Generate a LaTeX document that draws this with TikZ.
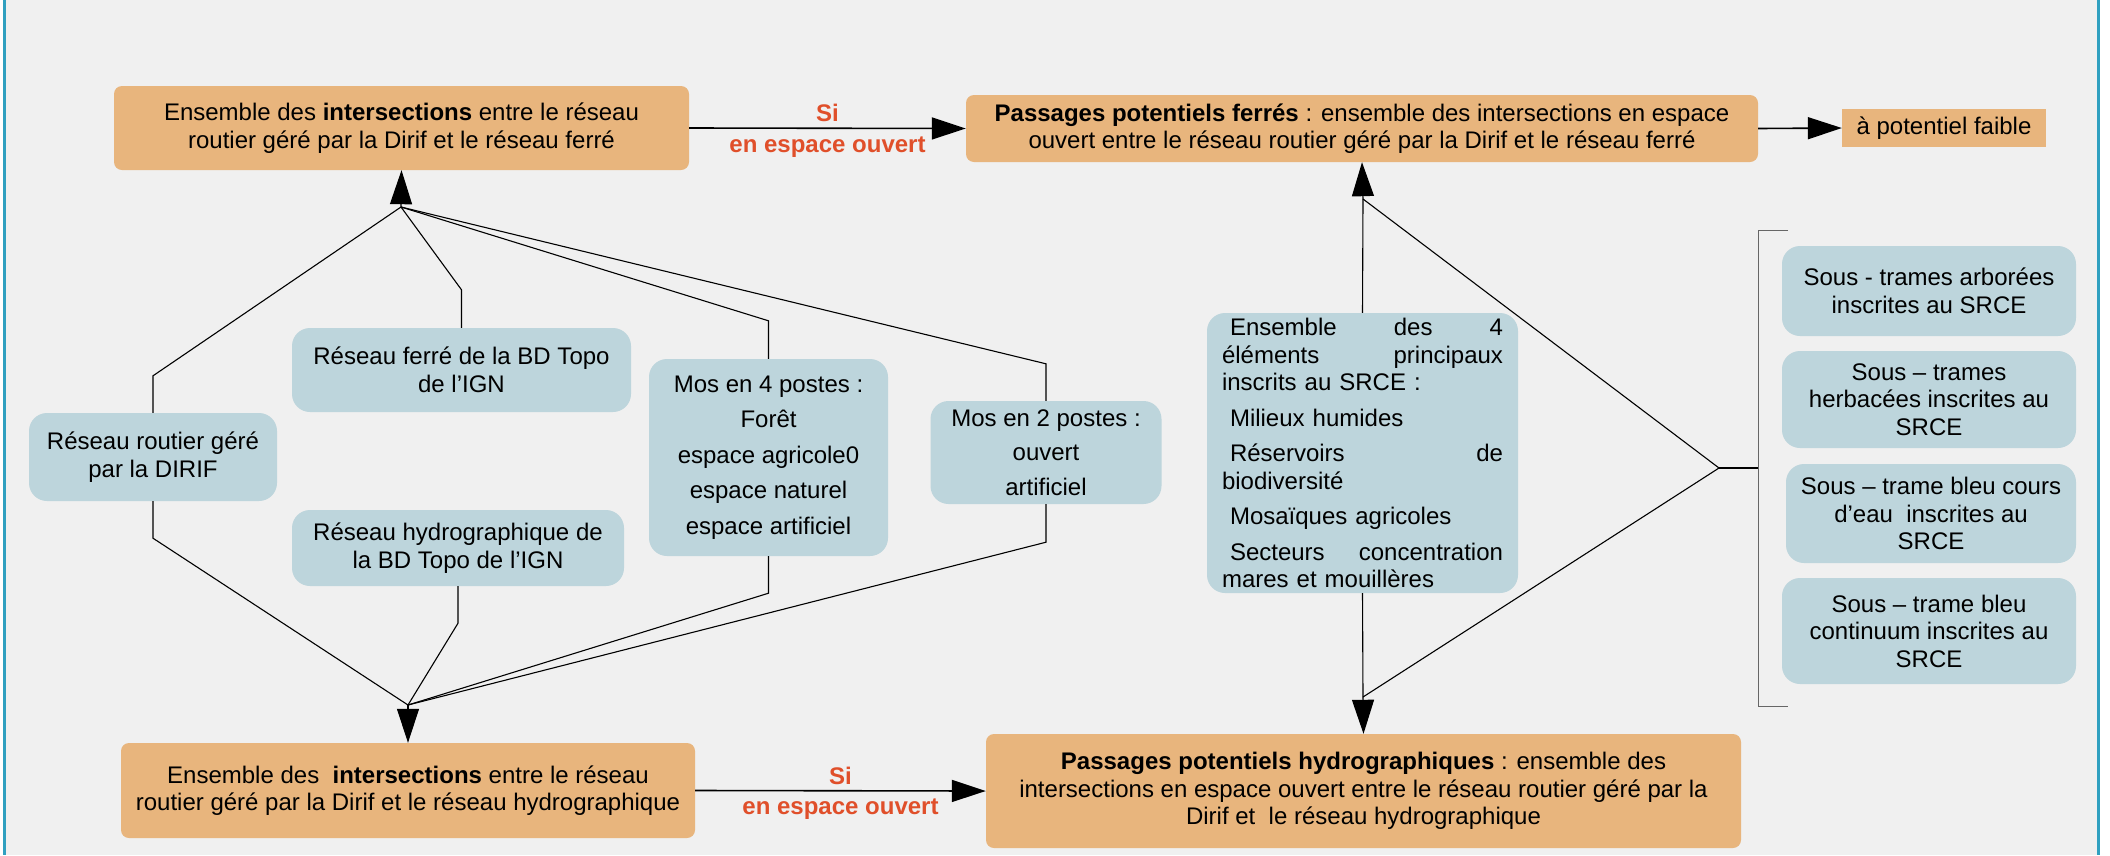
\documentclass[tikz,border=0pt]{standalone}
\usepackage{fontspec}
\setmainfont{Liberation Sans}
\usetikzlibrary{arrows.meta}

\definecolor{cFond}{HTML}{F0F0F0}
\definecolor{cCadre}{HTML}{30A0C0}
\definecolor{cOrange}{HTML}{E8B57D}
\definecolor{cBleu}{HTML}{BDD5DC}
\definecolor{cRouge}{HTML}{E04F2A}
\definecolor{cCrochet}{HTML}{666666}

\begin{document}
\begin{tikzpicture}[x=1pt, y=-1pt,
    font=\fontsize{24}{27.5}\selectfont,
    orangenode/.style={fill=cOrange, rounded corners=8pt, align=center, inner sep=0pt},
    bluenode/.style={fill=cBleu, rounded corners=18pt, align=center, inner sep=0pt},
    link/.style={line width=1.1pt},
    pointe/.style={-{Triangle[length=34pt, width=22pt]}},
    fleche/.style={line width=1.6pt, pointe},
    cond/.style={text=cRouge, font=\fontsize{24}{27.5}\selectfont\bfseries}]

    % Background and frame
    \useasboundingbox (0,0) rectangle (2110,855);
    \fill[cFond] (6,0) rectangle (2097,855);
    \draw[cCadre, line width=3pt] (4.5,0) -- (4.5,855);
    \draw[cCadre, line width=3pt] (2098.5,0) -- (2098.5,855);

    % Result boxes
    \node[orangenode, minimum width=575pt, minimum height=84pt] (interFer) at (401.5,128)
        {Ensemble des \textbf{intersections} entre le réseau\\routier géré par la Dirif et le réseau ferré};
    \node[orangenode, minimum width=792pt, minimum height=67pt] (passFer) at (1362,128.5)
        {\textbf{Passages potentiels ferrés}\ : ensemble des intersections en espace\\ouvert entre le réseau routier géré par la Dirif et le réseau ferré};
    \node[fill=cOrange, inner sep=0pt, minimum width=204pt, minimum height=38pt] (faible) at (1944,128)
        {à potentiel faible};
    \node[orangenode, minimum width=574pt, minimum height=95pt] (interHydro) at (408,790.5)
        {Ensemble des~ \textbf{intersections} entre le réseau\\routier géré par la Dirif et le réseau hydrographique};
    \node[orangenode, minimum width=755pt, minimum height=114pt] (passHydro) at (1363.5,791)
        {\textbf{Passages potentiels hydrographiques}\ : ensemble des\\intersections en espace ouvert entre le réseau routier géré par la\\Dirif et~ le réseau hydrographique};

    % Source data
    \node[bluenode, minimum width=248pt, minimum height=88pt] (routier) at (153,457)
        {Réseau routier géré\\par la DIRIF};
    \node[bluenode, minimum width=339pt, minimum height=84pt] (ferre) at (461.5,370)
        {Réseau ferré de la BD Topo\\de l’IGN};
    \node[bluenode, minimum width=332pt, minimum height=76pt] (hydro) at (458,548)
        {Réseau hydrographique de\\la BD Topo de l’IGN};
    \node[bluenode, minimum width=239pt, minimum height=197pt] (mos4) at (768.5,457.5)
        {Mos en 4 postes :\\[8pt]Forêt\\[8pt]espace agricole0\\[8pt]espace naturel\\[8pt]espace artificiel};
    \node[bluenode, minimum width=231pt, minimum height=103pt] (mos2) at (1046,452.5)
        {Mos en 2 postes :\\[7pt]ouvert\\[7pt]artificiel};
    \node[bluenode, minimum width=311pt, minimum height=280pt, text width=281pt, align=left] (srce) at (1362.5,453)
        {\hspace*{8pt}Ensemble\hfill des\hfill 4\\
         éléments\hfill principaux\\
         inscrits au SRCE :\\[8pt]
         \hspace*{8pt}Milieux humides\\[8pt]
         \hspace*{8pt}Réservoirs\hfill de\\
         biodiversité\\[8pt]
         \hspace*{8pt}Mosaïques agricoles\\[8pt]
         \hspace*{8pt}Secteurs\hfill concentration\\
         mares et mouillères};

    % Sub-networks of the SRCE
    \node[bluenode, minimum width=294pt, minimum height=90pt] (arbo) at (1929,291)
        {Sous - trames arborées\\inscrites au SRCE};
    \node[bluenode, minimum width=294pt, minimum height=97pt] (herba) at (1929,399.5)
        {Sous – trames\\herbacées inscrites au\\SRCE};
    \node[bluenode, minimum width=290pt, minimum height=99pt] (cours) at (1931,513.5)
        {Sous – trame bleu cours\\d’eau~ inscrites au\\SRCE};
    \node[bluenode, minimum width=294pt, minimum height=106pt] (contin) at (1929,631)
        {Sous – trame bleu\\continuum inscrites au\\SRCE};

    % Junctions
    \coordinate (jFer) at (401,207);
    \coordinate (jHydro) at (408,705);
    \coordinate (jPF) at (1363,199);
    \coordinate (jPH) at (1363,697);
    \coordinate (jSous) at (1719,468);
    \coordinate (brHaut) at (1788,230);
    \coordinate (brBas) at (1788,706);
    \coordinate (brMil) at (1758,468);

    % Towards the railway intersections
    \draw[link] (routier.north) -- ++(0,-37) -- (jFer);
    \draw[link] (ferre.north) -- ++(0,-38) -- (jFer);
    \draw[link] (mos4.north) -- ++(0,-38) -- (jFer);
    \draw[link] (mos2.north) -- ++(0,-37) -- (jFer);
    \draw[link, pointe] (jFer) -- (interFer.south);

    % Towards the water intersections
    \draw[link] (routier.south) -- ++(0,37) -- (jHydro);
    \draw[link] (hydro.south) -- ++(0,37) -- (jHydro);
    \draw[link] (mos4.south) -- ++(0,37) -- (jHydro);
    \draw[link] (mos2.south) -- ++(0,38) -- (jHydro);
    \draw[link, pointe] (jHydro) -- (interHydro.north);

    % SRCE bracket
    \draw[cCrochet, line width=1pt] (brHaut) -- (brHaut -| brMil) -- (brBas -| brMil) -- (brBas);
    \draw[link] (brMil) -- (jSous);
    \draw[link] (jSous) -- (jPF);
    \draw[link] (jSous) -- (jPH);
    \draw[link] (srce.north) -- (jPF);
    \draw[link] (srce.south) -- (jPH);
    \draw[link, pointe] (jPF) -- (passFer.south);
    \draw[link, pointe] (jPH) -- (passHydro.north);

    % Conditions
    \draw[fleche] (interFer.east) -- (passFer.west)
        node[midway, above=2pt, cond] {Si}
        node[midway, below=4pt, cond] {en espace ouvert};
    \draw[fleche] (interHydro.east) -- (passHydro.west)
        node[midway, above=2pt, cond] {Si}
        node[midway, below=4pt, cond] {en espace ouvert};
    \draw[fleche] (passFer.east) -- (faible.west);
\end{tikzpicture}
\end{document}
